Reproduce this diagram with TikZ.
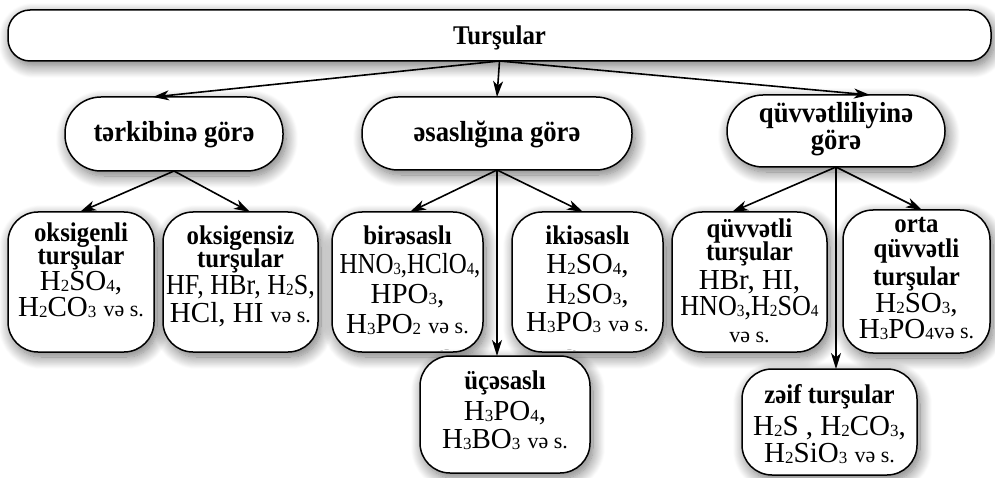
\documentclass[tikz,border=0pt]{standalone}
\usepackage{fontspec}
\setmainfont{Liberation Serif}
\usetikzlibrary{arrows.meta,shadows.blur}
% small chemical index digits, set close to the baseline
\newcommand\sbs[1]{\raisebox{-0.04em}{\fontsize{17}{17}\selectfont #1}}
\newcommand\vs{{\fontsize{22}{22}\selectfont və s.}}
% narrow bold headings
\newcommand\nb[1]{\scalebox{0.92}[1]{#1}}
\tikzset{
  x=1pt, y=-1pt,
  boxbase/.style={draw=black, line width=1.5pt, fill=white, inner sep=0pt, outer sep=0pt,
    blur shadow={shadow xshift=3pt, shadow yshift=-5pt, shadow blur radius=12pt,
                 shadow blur steps=14, shadow opacity=55}},
  topbox/.style={boxbase, rounded corners=22pt, minimum width=983pt, minimum height=51pt},
  midbox/.style={boxbase, rounded corners=36pt, minimum height=72pt},
  leafbox/.style={boxbase, rounded corners=30pt},
  conn/.style={line width=1.6pt, -{Stealth[length=16pt,width=10pt,inset=4.5pt]}},
  ttl/.style={anchor=base, inner sep=0pt, font=\bfseries\fontsize{27}{27}\selectfont},
  mtl/.style={anchor=base, inner sep=0pt, font=\bfseries\fontsize{29}{29}\selectfont},
  hd/.style={anchor=base, inner sep=0pt, font=\bfseries\fontsize{27}{27}\selectfont},
  bd/.style={anchor=base, inner sep=0pt, font=\fontsize{29}{29}\selectfont},
}
\begin{document}
\begin{tikzpicture}
\useasboundingbox (0,0) rectangle (995,478);

% root
\node[topbox] (T) at (499.5,35.5) {};
\node[ttl] (Tt) at (499.5,45) {\nb{Turşular}};

% classification criteria
\node[midbox, minimum width=218pt, minimum height=74pt] (K) at (174,134) {};
\node[midbox, minimum width=270pt, minimum height=73pt] (E) at (497,133.5) {};
\node[midbox, minimum width=218pt, minimum height=72pt] (Q) at (836,131) {};
\node[mtl] (Kt) at (174,142) {\nb{tərkibinə görə}};
\node[mtl] (Et) at (497,142) {\nb{əsaslığına görə}};
\node[mtl] (Qt1) at (836,123) {\nb{qüvvətliliyinə}};
\node[mtl] (Qt2) at (836,150) {\nb{görə}};

% leaves: by composition
\node[leafbox, minimum width=146pt, minimum height=140pt] (A) at (81,282) {};
\node[hd] (A1) at (81,241) {\nb{oksigenli}};
\node[hd] (A2) at (81,264) {\nb{turşular}};
\node[bd] (A3) at (81,290) {H\sbs{2}SO\sbs{4},};
\node[bd] (A4) at (81,316) {H\sbs{2}CO\sbs{3} \vs};

\node[leafbox, minimum width=155pt, minimum height=140pt] (B) at (240.5,282) {};
\node[hd] (B1) at (240.5,244) {\nb{oksigensiz}};
\node[hd] (B2) at (240.5,267) {\nb{turşular}};
\node[bd] (B3) at (240.5,294) {\scalebox{0.9}[1]{HF, HBr, H\sbs{2}S,}};
\node[bd] (B4) at (240.5,322) {HCl, HI \vs};

% leaves: by basicity
\node[leafbox, minimum width=151pt, minimum height=140pt] (C) at (407.5,282) {};
\node[hd] (C1) at (407.5,244) {\nb{birəsaslı}};
\node[bd] (C2) at (410,273) {\scalebox{0.86}[1]{HNO\sbs{3},HClO\sbs{4},}};
\node[bd] (C3) at (407.5,303) {HPO\sbs{3},};
\node[bd] (C4) at (407.5,333) {H\sbs{3}PO\sbs{2} \vs};

\node[leafbox, minimum width=151pt, minimum height=140pt] (D) at (587.5,282) {};
\node[hd] (D1) at (587.5,244) {\nb{ikiəsaslı}};
\node[bd] (D2) at (587.5,273) {H\sbs{2}SO\sbs{4},};
\node[bd] (D3) at (587.5,303) {H\sbs{2}SO\sbs{3},};
\node[bd] (D4) at (587.5,331) {H\sbs{3}PO\sbs{3} \vs};

\node[leafbox, minimum width=170pt, minimum height=117pt] (U) at (505,414.5) {};
\node[hd] (U1) at (505,389) {\nb{üçəsaslı}};
\node[bd] (U2) at (505,420) {H\sbs{3}PO\sbs{4},};
\node[bd] (U3) at (505,448) {H\sbs{3}BO\sbs{3} \vs};

% leaves: by strength
\node[leafbox, minimum width=155pt, minimum height=140pt] (S) at (749.5,282) {};
\node[hd] (S1) at (749.5,237) {\nb{qüvvətli}};
\node[hd] (S2) at (749.5,261) {\nb{turşular}};
\node[bd] (S3) at (749.5,289) {HBr, HI,};
\node[bd] (S4) at (749.5,315) {\scalebox{0.9}[1]{HNO\sbs{3},H\sbs{2}SO\sbs{4}}};
\node[bd] (S5) at (749.5,342) {\vs};

\node[leafbox, minimum width=147pt, minimum height=143pt] (O) at (916.5,281.5) {};
\node[hd] (O1) at (916.5,233) {\nb{orta}};
\node[hd] (O2) at (916.5,258) {\nb{qüvvətli}};
\node[hd] (O3) at (916.5,285) {\nb{turşular}};
\node[bd] (O4) at (916.5,312) {H\sbs{2}SO\sbs{3},};
\node[bd] (O5) at (916.5,338) {H\sbs{3}PO\sbs{4}\vs};

\node[leafbox, minimum width=175pt, minimum height=106pt] (Z) at (829.5,422) {};
\node[hd] (Z1) at (829.5,403) {\nb{zəif turşular}};
\node[bd] (Z2) at (829.5,435) {H\sbs{2}S , H\sbs{2}CO\sbs{3},};
\node[bd] (Z3) at (829.5,462) {H\sbs{2}SiO\sbs{3} \vs};

% connectors
\draw[conn] (T.south) -- ([xshift=-21pt]K.north);
\draw[conn] (T.south) -- (E.north);
\draw[conn] (T.south) -- ([xshift=34pt]Q.north);

\draw[conn] (K.south) -- ([xshift=-1pt]A.north);
\draw[conn] (K.south) -- ([xshift=9.5pt]B.north);

\draw[conn] (E.south) -- ([xshift=2.5pt]C.north);
\draw[conn] (E.south) -- ([xshift=-4.5pt]D.north);
\draw[conn] (E.south) -- ([xshift=-8pt]U.north);

\draw[conn] (Q.south) -- ([xshift=-17.5pt]S.north);
\draw[conn] (Q.south) -- ([xshift=5.5pt]O.north);
\draw[conn] (Q.south) -- ([xshift=6.5pt]Z.north);
\end{tikzpicture}
\end{document}
